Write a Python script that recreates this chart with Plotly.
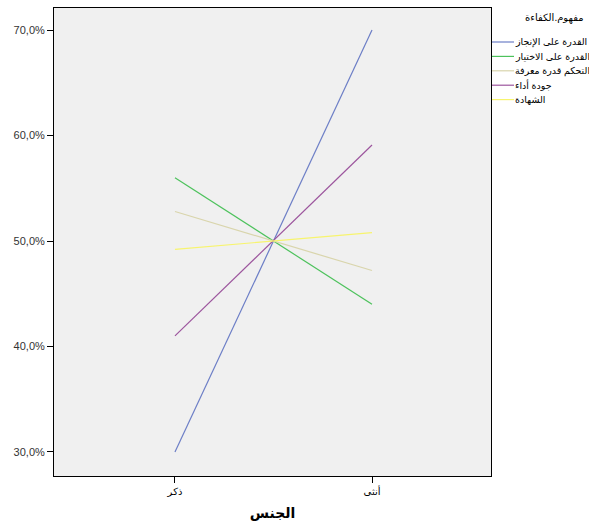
import plotly.graph_objects as go

# Gender categories on the x axis
categories = ["ذكر", "أنثى"]

# Percentage per competency concept, for each gender
legend_title = "مفهوم.الكفاءة"
series_names = [
    "القدرة على الإنجاز",
    "القدرة على الاختيار",
    "التحكم قدرة معرفة",
    "جودة أداء",
    "الشهادة",
]
series_values = [
    [30.0, 70.0],
    [56.0, 44.0],
    [52.8, 47.2],
    [41.0, 59.1],
    [49.2, 50.8],
]
series_colors = ["#6C7EC6", "#4DC25C", "#D9D5AC", "#9C559D", "#F7F46E"]

tick_values = [30, 40, 50, 60, 70]
tick_labels = ["30,0%", "40,0%", "50,0%", "60,0%", "70,0%"]

FONT = "Arial, Liberation Sans, DejaVu Sans, sans-serif"

# Plot-area geometry in pixels (used to place the legend in the right margin)
W, H = 590, 529
L, R, T, B = 54, 99, 8, 53
PW, PH = W - L - R, H - T - B


def px_x(px):
    return (px - L) / PW


def px_y(py):
    return (H - B - py) / PH


fig = go.Figure()
for name, vals, col in zip(series_names, series_values, series_colors):
    fig.add_trace(go.Scatter(
        x=[0, 1], y=vals, mode="lines", name=name,
        line=dict(color=col, width=1.2),
    ))

# Legend drawn in the right margin: sample line + label per series
fig.add_annotation(
    x=px_x(586), y=px_y(18), xref="paper", yref="paper",
    xanchor="right", yanchor="middle", showarrow=False,
    text=legend_title, font=dict(size=10, family=FONT, color="black"),
)
for i, (name, col) in enumerate(zip(series_names, series_colors)):
    yy = px_y(42 + i * 14.4)
    fig.add_shape(
        type="line", xref="paper", yref="paper",
        x0=px_x(492), x1=px_x(514), y0=yy, y1=yy,
        line=dict(color=col, width=1.2),
    )
    fig.add_annotation(
        x=px_x(513), y=yy, xref="paper", yref="paper",
        xanchor="left", yanchor="middle", showarrow=False,
        width=74, align="left", borderpad=1,
        text=name, font=dict(size=9.5, family=FONT, color="black"),
    )

fig.update_layout(
    width=W, height=H,
    margin=dict(l=L, r=R, t=T, b=B, autoexpand=False),
    paper_bgcolor="white",
    plot_bgcolor="#F0F0F0",
    font=dict(family=FONT, color="black"),
    showlegend=False,
    xaxis=dict(
        range=[-0.614, 1.604],
        tickvals=[0, 1], ticktext=categories,
        ticks="outside", ticklen=6, tickcolor="black",
        tickfont=dict(size=10),
        showgrid=False, zeroline=False,
        showline=True, linecolor="black", linewidth=1, mirror=True,
        title=dict(text="<b>الجنس</b>", font=dict(size=14), standoff=12),
    ),
    yaxis=dict(
        range=[27.72, 72.09],
        tickvals=tick_values, ticktext=tick_labels,
        ticks="outside", ticklen=6, tickcolor="black",
        tickfont=dict(size=11, color="#333333"),
        showgrid=False, zeroline=False,
        showline=True, linecolor="black", linewidth=1, mirror=True,
    ),
)

fig.write_html("out.html")
